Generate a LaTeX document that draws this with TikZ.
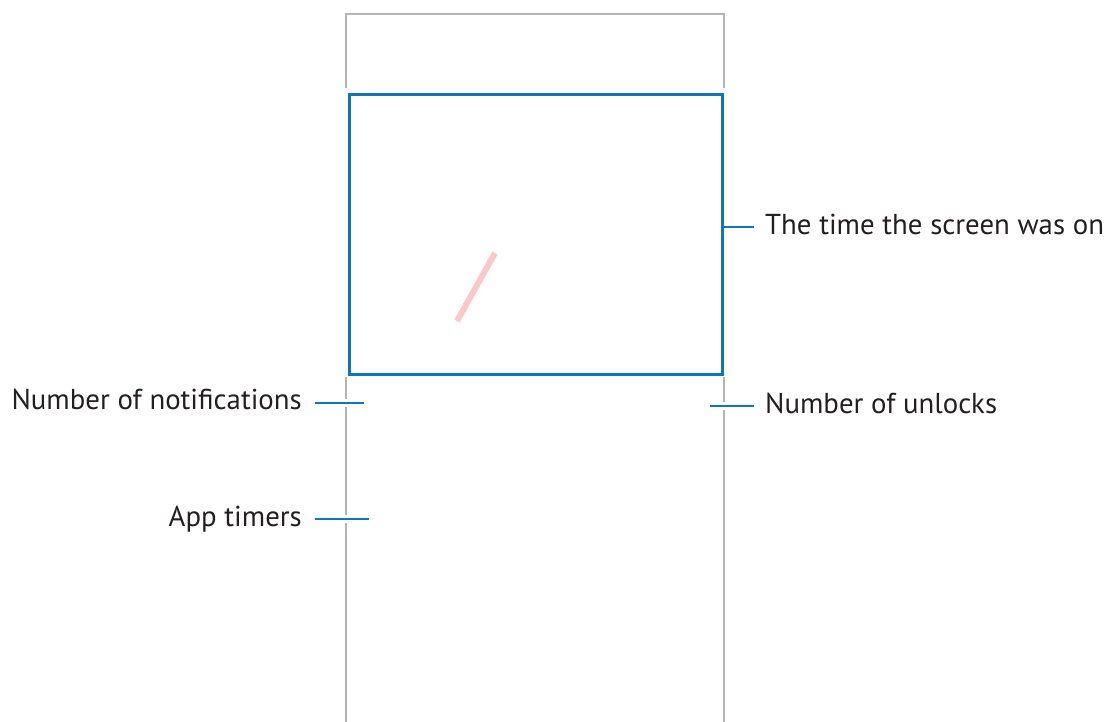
\documentclass[tikz,border=0pt]{standalone}
\usepackage{fontspec}
\setmainfont{PT Sans}
\definecolor{frameblue}{RGB}{17,119,176}
\definecolor{framegrey}{RGB}{180,180,180}
\definecolor{txt}{RGB}{35,31,32}
\definecolor{pinkmark}{RGB}{255,200,200}
\begin{document}
\begin{tikzpicture}[x=1pt,y=-1pt,
  greyline/.style={draw=framegrey,line width=2pt},
  bluebox/.style={draw=frameblue,line width=2.6pt},
  tick/.style={draw=frameblue,line width=2.6pt,preaction={draw=white,line width=8pt}},
  lbl/.style={text=txt,font=\fontsize{28.8}{34}\selectfont,inner sep=0pt}]
\useasboundingbox (0,0) rectangle (1109,722);
% grey device frame
\draw[greyline] (345.5,88) -- (345.5,14) -- (723.5,14) -- (723.5,88);
\draw[greyline] (345.5,377) -- (345.5,722);
\draw[greyline] (723.5,377) -- (723.5,722);
% blue highlight box
\node[bluebox,minimum width=373pt,minimum height=280pt,inner sep=0pt,anchor=north west] (box) at (348,93) {};
% pink stroke
\coordinate (p1) at (457,321);
\coordinate (p2) at (495,253);
\draw[pinkmark,line width=6pt] (p1) -- (p2);
% ticks
\coordinate (t1a) at (722,227); \coordinate (t1b) at (754,227);
\coordinate (t2a) at (315,403); \coordinate (t2b) at (364,403);
\coordinate (t3a) at (710,406); \coordinate (t3b) at (754,406);
\coordinate (t4a) at (315,519); \coordinate (t4b) at (369,519);
\draw[draw=frameblue,line width=2.6pt] (t1a) -- (t1b);
\draw[tick] (t2a) -- (t2b);
\draw[tick] (t3a) -- (t3b);
\draw[tick] (t4a) -- (t4b);
% labels
\node[lbl,anchor=base west] (l1) at (765,235) {The time the screen was on};
\node[lbl,anchor=base east] (l2) at (302,409) {Number of notifications};
\node[lbl,anchor=base west] (l3) at (765,413) {Number of unlocks};
\node[lbl,anchor=base east] (l4) at (302,526) {App timers};
\end{tikzpicture}
\end{document}
